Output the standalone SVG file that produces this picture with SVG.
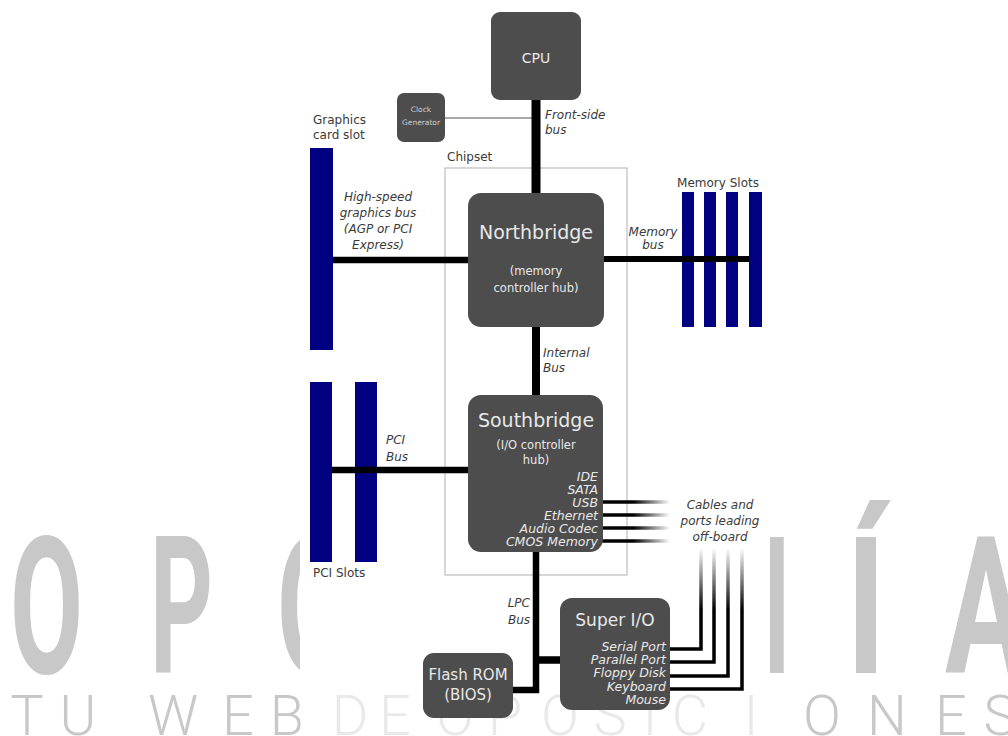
<svg xmlns="http://www.w3.org/2000/svg" width="1008" height="736" viewBox="0 0 1008 736">
<defs>
<style>
.wm{font-family:Roboto,"Liberation Sans",sans-serif;fill:#c8c8c8}
.big{font-size:191px;font-weight:700}
.sm{font-size:56px;font-weight:300;text-anchor:middle}
.box{fill:#4d4d4d}
.slot{fill:#000080}
.bt{font-family:"DejaVu Sans","Liberation Sans",sans-serif;fill:#e8e8e8;text-anchor:middle}
.ct{fill:#cfcfcf}
.lb{font-family:"DejaVu Sans","Liberation Sans",sans-serif;fill:#3a3a3a;font-size:12px}
.it{font-style:italic}
.bus{stroke:#000;fill:none}
.mid{text-anchor:middle}
.end{text-anchor:end}
</style>
<linearGradient id="gh" gradientUnits="userSpaceOnUse" x1="603" y1="0" x2="670" y2="0">
<stop offset="0.45" stop-color="#000"/><stop offset="1" stop-color="#000" stop-opacity="0"/>
</linearGradient>
<linearGradient id="gv" gradientUnits="userSpaceOnUse" x1="0" y1="548" x2="0" y2="610">
<stop offset="0" stop-color="#000" stop-opacity="0"/><stop offset="1" stop-color="#000"/>
</linearGradient>
<clipPath id="page"><rect width="1008" height="736"/></clipPath>
</defs>
<rect width="1008" height="736" fill="#fff"/>
<g id="watermark" clip-path="url(#page)">
<text class="wm big" x="10" y="673" textLength="73" lengthAdjust="spacingAndGlyphs">O</text>
<text class="wm big" x="150" y="673" textLength="63" lengthAdjust="spacingAndGlyphs">P</text>
<text class="wm big" x="277" y="673" textLength="73" lengthAdjust="spacingAndGlyphs">O</text>
<text class="wm big" x="720" y="673" textLength="70" lengthAdjust="spacingAndGlyphs">N</text>
<text class="wm big" x="846" y="673" textLength="40" lengthAdjust="spacingAndGlyphs">Í</text>
<text class="wm big" x="945" y="673" textLength="82" lengthAdjust="spacingAndGlyphs">A</text>
<text class="wm sm" y="735"><tspan x="27">T</tspan><tspan x="78">U</tspan><tspan x="173">W</tspan><tspan x="238">E</tspan><tspan x="287">B</tspan><tspan x="350">D</tspan><tspan x="395">E</tspan><tspan x="455">O</tspan><tspan x="505">P</tspan><tspan x="560">O</tspan><tspan x="610">S</tspan><tspan x="650">I</tspan><tspan x="690">C</tspan><tspan x="751">I</tspan><tspan x="822">O</tspan><tspan x="887">N</tspan><tspan x="951">E</tspan><tspan x="1000">S</tspan></text>
</g>
<rect x="300" y="0" width="470" height="690" fill="#fff"/>
<rect x="300" y="690" width="470" height="46" fill="#fff" opacity="0.6"/>

<g id="chipset">
<rect x="445" y="168" width="182" height="407" fill="none" stroke="#bdbdbd" stroke-width="1.2"/>
<text class="lb" x="447" y="161">Chipset</text>
</g>

<g id="graphics-slot">
<rect class="slot" x="310" y="148" width="23" height="202"/>
<text class="lb" x="313" y="124">Graphics</text>
<text class="lb" x="313" y="139">card slot</text>
</g>
<g id="memory-slots">
<rect class="slot" x="682" y="192" width="12" height="135"/>
<rect class="slot" x="704" y="192" width="12" height="135"/>
<rect class="slot" x="726" y="192" width="12" height="135"/>
<rect class="slot" x="749" y="192" width="13" height="135"/>
<text class="lb mid" x="718" y="187">Memory Slots</text>
</g>
<g id="pci-slots">
<rect class="slot" x="310" y="382" width="22" height="180"/>
<rect class="slot" x="355" y="382" width="22" height="180"/>
<text class="lb" x="313" y="577">PCI Slots</text>
</g>

<g id="connectors">
<line x1="445" y1="118" x2="533" y2="118" stroke="#a8a8a8" stroke-width="1.8"/>
<line class="bus" x1="536" y1="100" x2="536" y2="194" stroke-width="9"/>
<line class="bus" x1="333" y1="260" x2="470" y2="260" stroke-width="6.5"/>
<line class="bus" x1="602" y1="259" x2="749" y2="259" stroke-width="6"/>
<line class="bus" x1="536" y1="326" x2="536" y2="396" stroke-width="8"/>
<line class="bus" x1="332" y1="470" x2="470" y2="470" stroke-width="6.5"/>
<path class="bus" d="M536 551 V690 H512" stroke-width="6.5"/>
<line class="bus" x1="536" y1="660" x2="561" y2="660" stroke-width="7.5"/>
<g stroke="url(#gh)" stroke-width="3.5" fill="none">
<line x1="602" y1="502" x2="670" y2="502"/>
<line x1="602" y1="515" x2="670" y2="515"/>
<line x1="602" y1="528" x2="670" y2="528"/>
<line x1="602" y1="541" x2="670" y2="541"/>
</g>
<g stroke="url(#gv)" stroke-width="3.5" fill="none">
<path d="M669 649 H701 V548"/>
<path d="M669 662 H714 V548"/>
<path d="M669 676 H728 V548"/>
<path d="M669 689 H742 V548"/>
</g>
<g class="lb it">
<text x="545" y="119">Front-side</text>
<text x="545" y="134">bus</text>
<text class="mid" x="378" y="201">High-speed</text>
<text class="mid" x="378" y="217">graphics bus</text>
<text class="mid" x="378" y="233">(AGP or PCI</text>
<text class="mid" x="378" y="249">Express)</text>
<text class="mid" x="653" y="236">Memory</text>
<text class="mid" x="653" y="249">bus</text>
<text x="543" y="357">Internal</text>
<text x="543" y="372">Bus</text>
<text x="386" y="444">PCI</text>
<text x="386" y="461">Bus</text>
<text class="mid" x="720" y="509">Cables and</text>
<text class="mid" x="720" y="525">ports leading</text>
<text class="mid" x="720" y="541">off-board</text>
<text class="end" x="530" y="607">LPC</text>
<text class="end" x="530" y="624">Bus</text>
</g>
</g>

<g id="cpu">
<rect class="box" x="491" y="12" width="90" height="88" rx="9"/>
<text class="bt" x="536" y="63" font-size="14">CPU</text>
</g>
<g id="clock-generator">
<rect class="box" x="397" y="93" width="48" height="49" rx="7"/>
<text class="bt ct" x="421" y="112" font-size="7.5">Clock</text>
<text class="bt ct" x="421" y="125" font-size="7.5">Generator</text>
</g>
<g id="northbridge">
<rect class="box" x="468" y="193" width="136" height="134" rx="13"/>
<text class="bt" x="536" y="239" font-size="19">Northbridge</text>
<text class="bt" x="536" y="275" font-size="11.5">(memory</text>
<text class="bt" x="536" y="292" font-size="11.5">controller hub)</text>
</g>
<g id="southbridge">
<rect class="box" x="468" y="395" width="135" height="157" rx="13"/>
<text class="bt" x="536" y="427" font-size="19">Southbridge</text>
<text class="bt" x="536" y="449" font-size="11.5">(I/O controller</text>
<text class="bt" x="536" y="464" font-size="11.5">hub)</text>
<g class="bt it" style="text-anchor:end" font-size="12.5">
<text x="598" y="481">IDE</text>
<text x="598" y="494">SATA</text>
<text x="598" y="507">USB</text>
<text x="598" y="520">Ethernet</text>
<text x="598" y="533">Audio Codec</text>
<text x="598" y="546">CMOS Memory</text>
</g>
</g>
<g id="super-io">
<rect class="box" x="560" y="598" width="110" height="112" rx="12"/>
<text class="bt" x="615" y="626" font-size="17">Super I/O</text>
<g class="bt it" style="text-anchor:end" font-size="12.5">
<text x="666" y="651">Serial Port</text>
<text x="666" y="664">Parallel Port</text>
<text x="666" y="677">Floppy Disk</text>
<text x="666" y="691">Keyboard</text>
<text x="666" y="704">Mouse</text>
</g>
</g>
<g id="flash-rom">
<rect class="box" x="423" y="653" width="90" height="65" rx="11"/>
<text class="bt" x="468" y="680" font-size="15">Flash ROM</text>
<text class="bt" x="468" y="700" font-size="15">(BIOS)</text>
</g>
</svg>
